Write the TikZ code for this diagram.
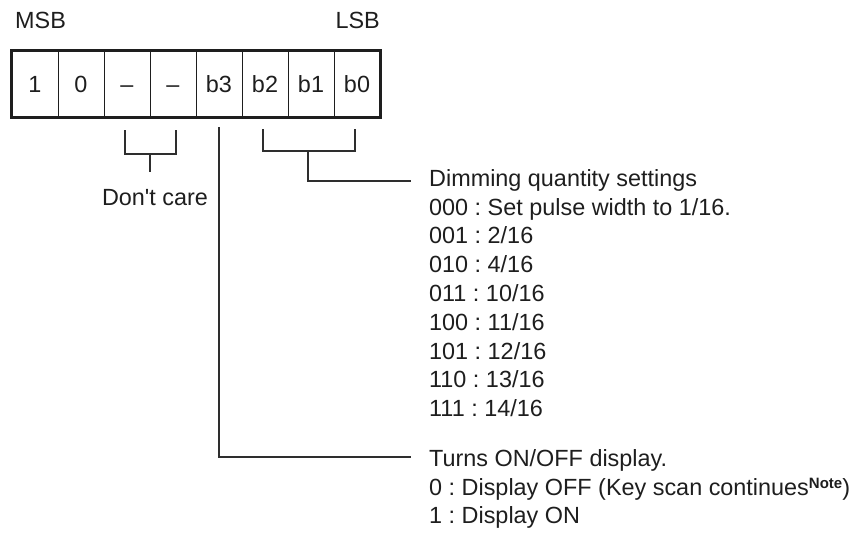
\documentclass[tikz,border=0pt]{standalone}
\usepackage{fontspec}
\setmainfont{Liberation Sans}
\usetikzlibrary{fit}
\frenchspacing
\definecolor{ink}{HTML}{1E1E1E}
\definecolor{wire}{HTML}{2E2E2E}
\tikzset{
  cell/.style={draw=ink, line width=1pt, minimum width=46pt, minimum height=66pt,
    inner sep=0pt, text height=16.5pt, text depth=0pt, font=\fontsize{23.4}{28}\selectfont, text=ink},
  frame/.style={draw=ink, line width=2.2pt, inner sep=0pt},
  lbl/.style={anchor=base west, inner sep=0pt, font=\fontsize{23.4}{28}\selectfont, text=ink},
  wireline/.style={draw=wire, line width=1.3pt},
}
\begin{document}
\begin{tikzpicture}[x=1pt,y=-1pt]
\useasboundingbox (0,0) rectangle (864,533);
% header
\node[lbl] (msb) at (15,28.3) {MSB};
\node[lbl, anchor=base east] (lsb) at (380,28.3) {LSB};
% cells
\node[cell] (c0) at (35,84) {1};
\node[cell] (c1) at (81,84) {0};
\node[cell] (c2) at (127,84) {–};
\node[cell] (c3) at (173,84) {–};
\node[cell] (c4) at (219,84) {b3};
\node[cell] (c5) at (265,84) {b2};
\node[cell] (c6) at (311,84) {b1};
\node[cell] (c7) at (357,84) {b0};
\node[frame, fit=(c0)(c7)] (frame) {};
% don't care bracket
\coordinate (dA) at (125,130);
\coordinate (dB) at (176,130);
\coordinate (dJ) at (150,154);
\coordinate (dS) at (150,172);
\draw[wireline] (dA) |- (dJ) -| (dB);
\draw[wireline] (dJ) -- (dS);
\node[lbl, anchor=base] (dc) at (155,205.3) {Don\textquotesingle t care};
% b2-b0 bracket
\coordinate (bA) at (263,129);
\coordinate (bB) at (355,129);
\coordinate (bJ) at (308,151);
\coordinate (bE) at (411,181);
\draw[wireline] (bA) |- (bJ) -| (bB);
\draw[wireline] (bJ) |- (bE);
% b3 line
\coordinate (b3s) at (219,127);
\coordinate (b3e) at (411,457);
\draw[wireline] (b3s) |- (b3e);
% dimming text
\node[lbl] (t0) at (429,186.3) {Dimming quantity settings};
\node[lbl] (t1) at (429,215.1) {000 : Set pulse width to 1/16.};
\node[lbl] (t2) at (429,243.9) {001 : 2/16};
\node[lbl] (t3) at (429,272.7) {010 : 4/16};
\node[lbl] (t4) at (429,301.5) {011 : 10/16};
\node[lbl] (t5) at (429,330.3) {100 : 11/16};
\node[lbl] (t6) at (429,359.1) {101 : 12/16};
\node[lbl] (t7) at (429,387.9) {110 : 13/16};
\node[lbl] (t8) at (429,416.7) {111 : 14/16};
% display text
\node[lbl] (u0) at (429,466.3) {Turns ON/OFF display.};
\node[lbl] (u1) at (429,495.1) {0 : Display OFF (Key scan continues\raisebox{7pt}{\fontsize{15}{15}\selectfont\bfseries Note})};
\node[lbl] (u2) at (429,523.9) {1 : Display ON};
\end{tikzpicture}
\end{document}
